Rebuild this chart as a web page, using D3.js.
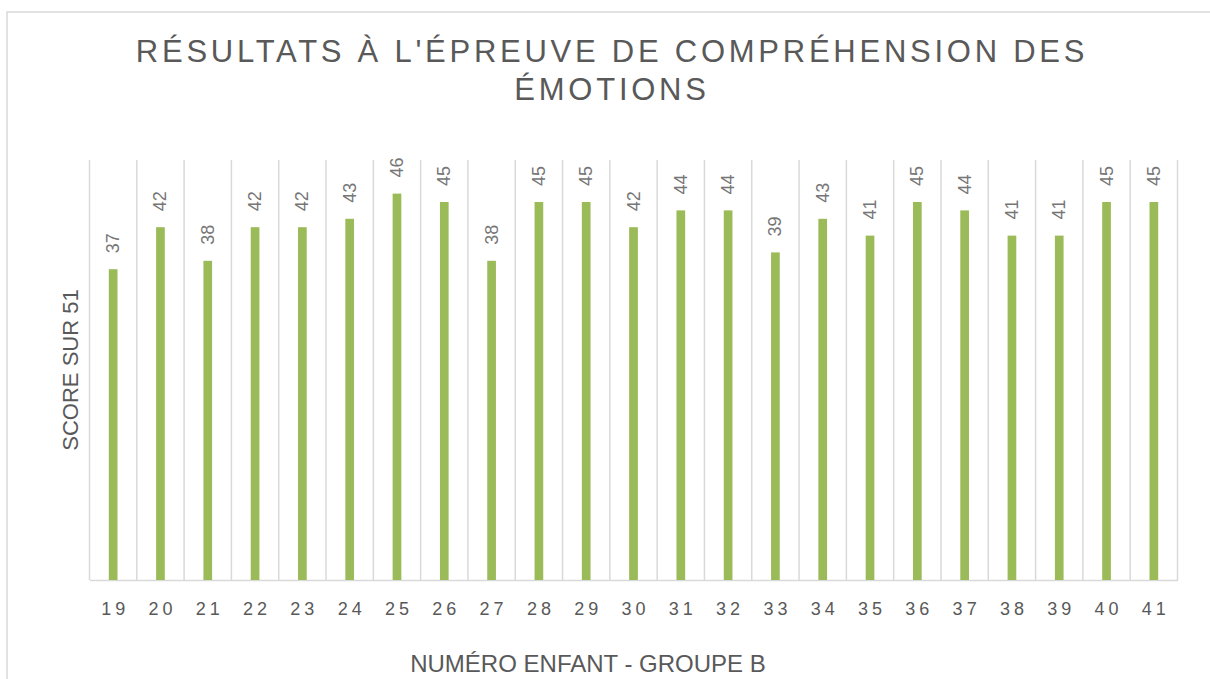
<!DOCTYPE html>
<html>
<head>
<meta charset="utf-8">
<script src="https://cdn.jsdelivr.net/npm/d3@7"></script>
<style>
  html, body { margin: 0; padding: 0; background: #fff; }
  svg { display: block; font-family: "Liberation Sans", Arial, sans-serif; }
</style>
</head>
<body>
<svg id="chart"></svg>
<script>
  // children of group B and their score (out of 51)
  const children = ['19','20','21','22','23','24','25','26','27','28','29','30','31','32','33','34','35','36','37','38','39','40','41'];
  const scores = [37, 42, 38, 42, 42, 43, 46, 45, 38, 45, 45, 42, 44, 44, 39, 43, 41, 45, 44, 41, 41, 45, 45];
  const titleLines = ["RÉSULTATS À L'ÉPREUVE DE COMPRÉHENSION DES", "ÉMOTIONS"];

  var width = 1210
  var height = 679
  var svg = d3.select('#chart').attr('width', width).attr('height', height)

  // chart frame
  svg.append('rect')
    .attr('x', 7).attr('y', 12)
    .attr('width', width + 20).attr('height', height + 20)
    .attr('fill', 'none').attr('stroke', '#d9d9d9').attr('stroke-width', 1.5)

  var plotLeft = 89.5, plotRight = 1177.5, plotTop = 160, plotBottom = 580

  var x = d3.scaleBand().domain(children).range([plotLeft, plotRight]).paddingInner(0).paddingOuter(0)
  var y = d3.scaleLinear().domain([0, 50]).range([plotBottom, plotTop])

  // vertical gridlines between categories
  var bounds = children.map(function (c) { return x(c) }).concat([plotRight])
  svg.append('g').selectAll('line')
    .data(bounds)
    .enter().append('line')
      .attr('x1', function (d) { return d }).attr('x2', function (d) { return d })
      .attr('y1', plotTop).attr('y2', plotBottom)
      .attr('stroke', '#d9d9d9').attr('stroke-width', 1.5)

  // bottom axis
  var xAxis = svg.append('g')
    .attr('transform', 'translate(0,' + plotBottom + ')')
    .call(d3.axisBottom(x).tickSize(0).tickPadding(22))
  xAxis.select('.domain').attr('stroke', '#d9d9d9').attr('stroke-width', 1.5)
  xAxis.selectAll('text')
    .attr('font-size', 18)
    .attr('letter-spacing', 4)
    .attr('dx', 2)
    .attr('fill', '#595959')
    .attr('font-family', '"Liberation Sans", Arial, sans-serif')

  var barW = 8.7
  svg.append('g').selectAll('rect')
    .data(scores)
    .enter().append('rect')
      .attr('x', function (d, i) { return x(children[i]) + x.bandwidth() / 2 - barW / 2 })
      .attr('y', function (d) { return y(d) })
      .attr('width', barW)
      .attr('height', function (d) { return plotBottom - y(d) })
      .attr('fill', '#9bbb59')

  // value labels, rotated
  svg.append('g').selectAll('text')
    .data(scores)
    .enter().append('text')
      .attr('transform', function (d, i) {
        return 'translate(' + (x(children[i]) + x.bandwidth() / 2) + ',' + (y(d) - 16) + ') rotate(-90)'
      })
      .attr('dominant-baseline', 'central')
      .attr('font-size', 18)
      .attr('fill', '#767676')
      .text(function (d) { return d })

  // title
  svg.append('g').selectAll('text')
    .data(titleLines)
    .enter().append('text')
      .attr('x', 612)
      .attr('y', function (d, i) { return 62 + i * 38 })
      .attr('text-anchor', 'middle')
      .attr('font-size', 31)
      .attr('letter-spacing', 3.75)
      .attr('fill', '#595959')
      .text(function (d) { return d })

  // axis titles
  svg.append('text')
    .attr('transform', 'translate(78,370) rotate(-90)')
    .attr('text-anchor', 'middle')
    .attr('font-size', 22)
    .attr('fill', '#595959')
    .text('SCORE SUR 51')

  svg.append('text')
    .attr('x', 588).attr('y', 672)
    .attr('text-anchor', 'middle')
    .attr('font-size', 24)
    .attr('fill', '#595959')
    .text('NUMÉRO ENFANT - GROUPE B')
</script>
</body>
</html>
